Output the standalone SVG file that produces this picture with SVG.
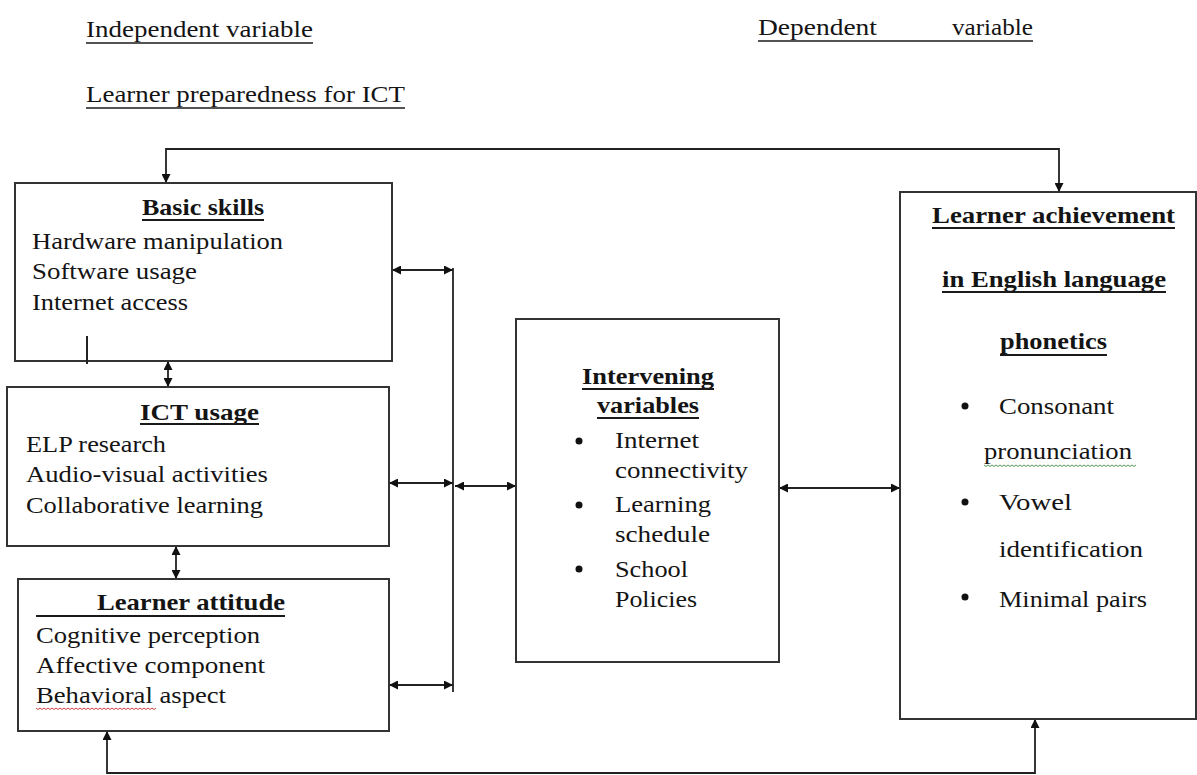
<svg xmlns="http://www.w3.org/2000/svg" width="1197" height="775" viewBox="0 0 1197 775">
<style>
  text { font-family: "Liberation Serif", "DejaVu Serif", "Times New Roman", serif; font-size: 24px; fill: #141414; }
  .b { font-weight: bold; }
  .box { fill: #ffffff; stroke: #333333; stroke-width: 2; }
  .ul { stroke: #1a1a1a; stroke-width: 2; }
  .ult { stroke: #1a1a1a; stroke-width: 1.5; }
  .conn { fill: none; stroke: #222222; stroke-width: 1.8; }
  .bul { fill: #111111; }
  .wavy { fill: none; stroke-width: 1; }
</style>
<defs>
  <marker id="ah" viewBox="0 0 10 10" refX="10" refY="5" markerWidth="10" markerHeight="9" markerUnits="userSpaceOnUse" orient="auto-start-reverse">
    <path d="M0,0 L10,5 L0,10 z" fill="#111111"/>
  </marker>
</defs>
<rect width="1197" height="775" fill="#ffffff"/>

<g id="labels">
  <text x="86" y="37" textLength="227" lengthAdjust="spacingAndGlyphs">Independent variable</text>
  <line class="ult" x1="86" y1="43" x2="313" y2="43"/>
  <text x="86" y="102" textLength="319" lengthAdjust="spacingAndGlyphs">Learner preparedness for ICT</text>
  <line class="ult" x1="86" y1="108" x2="405" y2="108"/>
  <text x="758" y="35" textLength="119" lengthAdjust="spacingAndGlyphs">Dependent</text>
  <text x="952" y="35" textLength="81" lengthAdjust="spacingAndGlyphs">variable</text>
  <line class="ult" x1="758" y1="41" x2="1033" y2="41"/>
</g>

<g id="connectors">
  <path class="conn" d="M166,183 V149 H1059 V192" marker-start="url(#ah)" marker-end="url(#ah)"/>
  <path class="conn" d="M107,731 V773 H1035 V719" marker-start="url(#ah)" marker-end="url(#ah)"/>
  <line class="conn" x1="168" y1="361" x2="168" y2="387" marker-start="url(#ah)" marker-end="url(#ah)"/>
  <line class="conn" x1="176" y1="546" x2="176" y2="579" marker-start="url(#ah)" marker-end="url(#ah)"/>
  <line class="conn" x1="392" y1="270" x2="453" y2="270" marker-start="url(#ah)" marker-end="url(#ah)"/>
  <line class="conn" x1="389" y1="483" x2="453" y2="483" marker-start="url(#ah)" marker-end="url(#ah)"/>
  <line class="conn" x1="389" y1="685" x2="453" y2="685" marker-start="url(#ah)" marker-end="url(#ah)"/>
  <line class="conn" x1="453" y1="268" x2="453" y2="692"/>
  <line class="conn" x1="455" y1="486" x2="516" y2="486" marker-start="url(#ah)" marker-end="url(#ah)"/>
  <line class="conn" x1="779" y1="488" x2="900" y2="488" marker-start="url(#ah)" marker-end="url(#ah)"/>
</g>

<g id="basic-skills">
  <rect class="box" x="15" y="183" width="377" height="178"/>
  <text class="b" x="142" y="215" textLength="122" lengthAdjust="spacingAndGlyphs">Basic skills</text>
  <line class="ul" x1="142" y1="220" x2="264" y2="220"/>
  <text x="32" y="249" textLength="251" lengthAdjust="spacingAndGlyphs">Hardware manipulation</text>
  <text x="32" y="279" textLength="165" lengthAdjust="spacingAndGlyphs">Software usage</text>
  <text x="32" y="310" textLength="156" lengthAdjust="spacingAndGlyphs">Internet access</text>
  <line x1="87" y1="336" x2="87" y2="364" stroke="#222222" stroke-width="2"/>
</g>

<g id="ict-usage">
  <rect class="box" x="7" y="387" width="382" height="159"/>
  <text class="b" x="140" y="420" textLength="119" lengthAdjust="spacingAndGlyphs">ICT usage</text>
  <line class="ul" x1="140" y1="424" x2="259" y2="424"/>
  <text x="26" y="452" textLength="140" lengthAdjust="spacingAndGlyphs">ELP research</text>
  <text x="26" y="482" textLength="242" lengthAdjust="spacingAndGlyphs">Audio-visual activities</text>
  <text x="26" y="513" textLength="237" lengthAdjust="spacingAndGlyphs">Collaborative learning</text>
</g>

<g id="learner-attitude">
  <rect class="box" x="18" y="579" width="371" height="152"/>
  <text class="b" x="97" y="610" textLength="188" lengthAdjust="spacingAndGlyphs">Learner attitude</text>
  <line class="ul" x1="36" y1="616" x2="285" y2="616"/>
  <text x="36" y="643" textLength="224" lengthAdjust="spacingAndGlyphs">Cognitive perception</text>
  <text x="36" y="673" textLength="229" lengthAdjust="spacingAndGlyphs">Affective component</text>
  <text x="36" y="703" textLength="190" lengthAdjust="spacingAndGlyphs">Behavioral aspect</text>
  <path class="wavy" stroke="#d04040" d="M36,708 l2,1.5 l2,-1.5 l2,1.5 l2,-1.5 l2,1.5 l2,-1.5 l2,1.5 l2,-1.5 l2,1.5 l2,-1.5 l2,1.5 l2,-1.5 l2,1.5 l2,-1.5 l2,1.5 l2,-1.5 l2,1.5 l2,-1.5 l2,1.5 l2,-1.5 l2,1.5 l2,-1.5 l2,1.5 l2,-1.5 l2,1.5 l2,-1.5 l2,1.5 l2,-1.5 l2,1.5 l2,-1.5 l2,1.5 l2,-1.5 l2,1.5 l2,-1.5 l2,1.5 l2,-1.5 l2,1.5 l2,-1.5 l2,1.5 l2,-1.5 l2,1.5 l2,-1.5 l2,1.5 l2,-1.5 l2,1.5 l2,-1.5 l2,1.5 l2,-1.5 l2,1.5 l2,-1.5 l2,1.5 l2,-1.5 l2,1.5 l2,-1.5 l2,1.5 l2,-1.5 l2,1.5 l2,-1.5 l2,1.5 l2,-1.5"/>
</g>

<g id="intervening-variables">
  <rect class="box" x="516" y="319" width="263" height="343"/>
  <text class="b" x="582" y="384" textLength="132" lengthAdjust="spacingAndGlyphs">Intervening</text>
  <line class="ul" x1="582" y1="389" x2="714" y2="389"/>
  <text class="b" x="597" y="413" textLength="102" lengthAdjust="spacingAndGlyphs">variables</text>
  <line class="ul" x1="597" y1="418" x2="699" y2="418"/>
  <circle class="bul" cx="579" cy="441" r="3.5"/>
  <text x="615" y="448" textLength="84" lengthAdjust="spacingAndGlyphs">Internet</text>
  <text x="615" y="478" textLength="133" lengthAdjust="spacingAndGlyphs">connectivity</text>
  <circle class="bul" cx="579" cy="505" r="3.5"/>
  <text x="615" y="512" textLength="96" lengthAdjust="spacingAndGlyphs">Learning</text>
  <text x="615" y="542" textLength="95" lengthAdjust="spacingAndGlyphs">schedule</text>
  <circle class="bul" cx="579" cy="569" r="3.5"/>
  <text x="615" y="577" textLength="73" lengthAdjust="spacingAndGlyphs">School</text>
  <text x="615" y="607" textLength="82" lengthAdjust="spacingAndGlyphs">Policies</text>
</g>

<g id="learner-achievement">
  <rect class="box" x="900" y="192" width="296" height="527"/>
  <text class="b" x="932" y="223" textLength="243" lengthAdjust="spacingAndGlyphs">Learner achievement</text>
  <line class="ul" x1="932" y1="228" x2="1175" y2="228"/>
  <text class="b" x="942" y="287" textLength="224" lengthAdjust="spacingAndGlyphs">in English language</text>
  <line class="ul" x1="942" y1="292" x2="1166" y2="292"/>
  <text class="b" x="1000" y="349" textLength="107" lengthAdjust="spacingAndGlyphs">phonetics</text>
  <line class="ul" x1="1000" y1="355" x2="1107" y2="355"/>
  <circle class="bul" cx="965" cy="406" r="3.5"/>
  <text x="999" y="414" textLength="115" lengthAdjust="spacingAndGlyphs">Consonant</text>
  <text x="984" y="459" textLength="148" lengthAdjust="spacingAndGlyphs">pronunciation</text>
  <path class="wavy" stroke="#5a9a5a" d="M984,465 l2,1.5 l2,-1.5 l2,1.5 l2,-1.5 l2,1.5 l2,-1.5 l2,1.5 l2,-1.5 l2,1.5 l2,-1.5 l2,1.5 l2,-1.5 l2,1.5 l2,-1.5 l2,1.5 l2,-1.5 l2,1.5 l2,-1.5 l2,1.5 l2,-1.5 l2,1.5 l2,-1.5 l2,1.5 l2,-1.5 l2,1.5 l2,-1.5 l2,1.5 l2,-1.5 l2,1.5 l2,-1.5 l2,1.5 l2,-1.5 l2,1.5 l2,-1.5 l2,1.5 l2,-1.5 l2,1.5 l2,-1.5 l2,1.5 l2,-1.5 l2,1.5 l2,-1.5 l2,1.5 l2,-1.5 l2,1.5 l2,-1.5 l2,1.5 l2,-1.5 l2,1.5 l2,-1.5 l2,1.5 l2,-1.5 l2,1.5 l2,-1.5 l2,1.5 l2,-1.5 l2,1.5 l2,-1.5 l2,1.5 l2,-1.5 l2,1.5 l2,-1.5 l2,1.5 l2,-1.5 l2,1.5 l2,-1.5 l2,1.5 l2,-1.5 l2,1.5 l2,-1.5 l2,1.5 l2,-1.5 l2,1.5 l2,-1.5 l2,1.5 l2,-1.5"/>
  <circle class="bul" cx="965" cy="502" r="3.5"/>
  <text x="999" y="510" textLength="73" lengthAdjust="spacingAndGlyphs">Vowel</text>
  <text x="999" y="557" textLength="144" lengthAdjust="spacingAndGlyphs">identification</text>
  <circle class="bul" cx="965" cy="597" r="3.5"/>
  <text x="999" y="607" textLength="148" lengthAdjust="spacingAndGlyphs">Minimal pairs</text>
</g>
</svg>
